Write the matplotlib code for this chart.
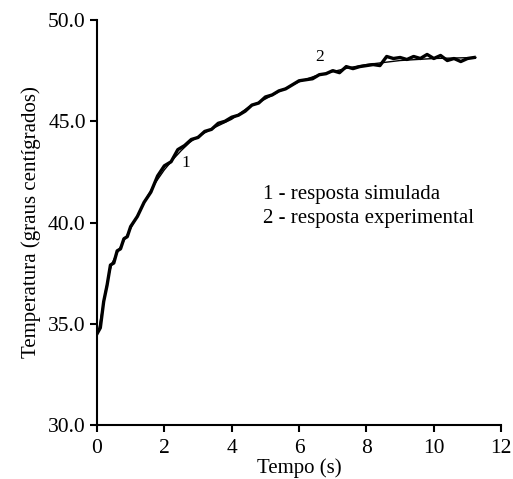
import matplotlib
matplotlib.use("Agg")
import matplotlib.pyplot as plt

plt.rcParams["font.family"] = ["Liberation Serif", "DejaVu Serif"]

# simulated response (smooth)
t_sim = [0.0, 0.05, 0.15, 0.25, 0.35, 0.45, 0.6, 0.8, 1.0, 1.25, 1.5, 1.75,
         2.0, 2.25, 2.5, 2.75, 3.0, 3.5, 4.0, 4.5, 5.0, 5.5, 6.0, 6.5, 7.0,
         7.5, 8.0, 8.5, 9.0, 9.5, 10.0, 10.5, 11.0, 11.25]
temp_sim = [34.6, 34.7, 35.6, 36.6, 37.4, 38.0, 38.5, 39.1, 39.7, 40.5, 41.3,
            42.0, 42.6, 43.1, 43.55, 43.95, 44.25, 44.7, 45.1, 45.7, 46.1,
            46.55, 46.95, 47.25, 47.45, 47.65, 47.8, 47.9, 48.0, 48.05, 48.1,
            48.12, 48.14, 48.15]

# experimental response (noisy)
t_exp = [0.0, 0.1, 0.2, 0.3, 0.4, 0.5, 0.6, 0.7, 0.8, 0.9, 1.0, 1.2, 1.4,
         1.6, 1.8, 2.0, 2.2, 2.4, 2.6, 2.8, 3.0, 3.2, 3.4, 3.6, 3.8, 4.0,
         4.2, 4.4, 4.6, 4.8, 5.0, 5.2, 5.4, 5.6, 5.8, 6.0, 6.2, 6.4, 6.6,
         6.8, 7.0, 7.2, 7.4, 7.6, 7.8, 8.0, 8.2, 8.4, 8.6, 8.8, 9.0, 9.2,
         9.4, 9.6, 9.8, 10.0, 10.2, 10.4, 10.6, 10.8, 11.0, 11.2]
temp_exp = [34.5, 34.8, 36.1, 36.9, 37.9, 38.0, 38.6, 38.7, 39.2, 39.3, 39.8,
            40.3, 41.0, 41.5, 42.3, 42.8, 43.0, 43.6, 43.8, 44.1, 44.2, 44.5,
            44.6, 44.9, 45.0, 45.2, 45.3, 45.5, 45.8, 45.9, 46.2, 46.3, 46.5,
            46.6, 46.8, 47.0, 47.05, 47.1, 47.3, 47.35, 47.5, 47.4, 47.7,
            47.6, 47.7, 47.75, 47.8, 47.75, 48.2, 48.1, 48.15, 48.05, 48.2,
            48.1, 48.3, 48.1, 48.25, 48.0, 48.1, 47.95, 48.1, 48.15]

fig = plt.figure(figsize=(5.13, 4.79), dpi=100)
ax = fig.add_axes([0.189, 0.1127, 0.788, 0.8455])

ax.plot(t_exp, temp_exp, color="black", lw=2.4)
ax.plot(t_sim, temp_sim, color="black", lw=1.0)

ax.set_xlim(0, 12)
ax.set_ylim(30, 50)
ax.set_xticks([0, 2, 4, 6, 8, 10, 12])
ax.set_yticks([30, 35, 40, 45, 50])
ax.set_yticklabels(["30.0", "35.0", "40.0", "45.0", "50.0"])

for s in ["top", "right"]:
    ax.spines[s].set_visible(False)
for s in ["left", "bottom"]:
    ax.spines[s].set_linewidth(1.5)
ax.tick_params(direction="out", length=5, width=1.5, labelsize=15.5, pad=3)
ax.tick_params(axis="x", pad=5)

ax.set_xlabel("Tempo (s)", fontsize=15, labelpad=0)
ax.set_ylabel("Temperatura (graus centígrados)", fontsize=15, labelpad=5)

ax.text(2.65, 42.94, "1", fontsize=12.5, ha="center", va="center")
ax.text(6.62, 48.17, "2", fontsize=12.5, ha="center", va="center")
ax.text(4.93, 41.36, "1 - resposta simulada", fontsize=15, va="center")
ax.text(4.93, 40.22, "2 - resposta experimental", fontsize=15, va="center")

fig.savefig("out.png", dpi=100)
